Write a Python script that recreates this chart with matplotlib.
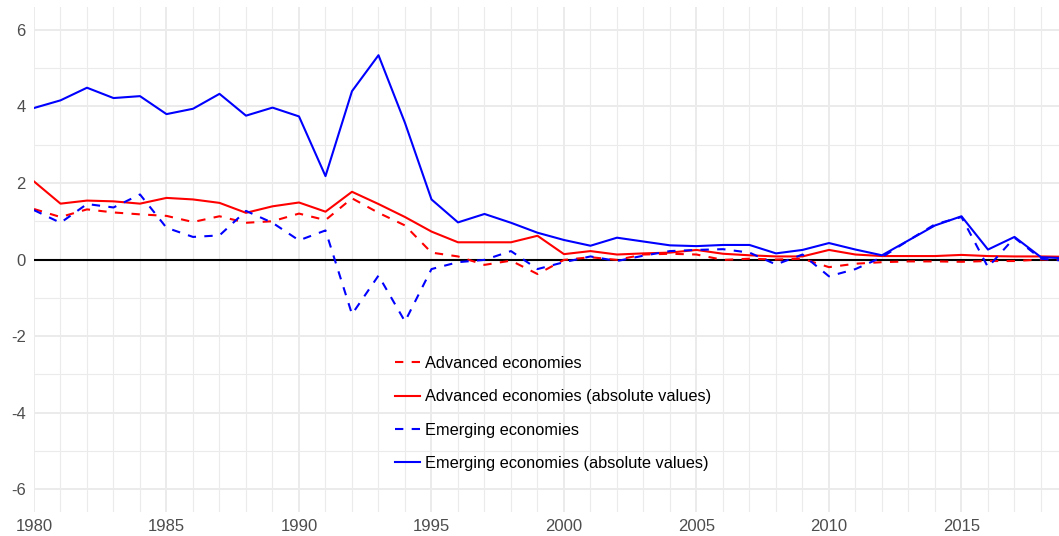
import matplotlib.pyplot as plt
from matplotlib.ticker import MultipleLocator

years = list(range(1980, 2020))

# Advanced economies
adv = [1.32, 1.11, 1.31, 1.23, 1.18, 1.14, 0.98, 1.13, 0.96, 1.00,
       1.20, 1.03, 1.60, 1.22, 0.89, 0.18, 0.08, -0.14, -0.03, -0.38,
       -0.01, 0.06, -0.01, 0.13, 0.15, 0.13, -0.01, 0.02, 0.00, 0.02,
       -0.20, -0.11, -0.07, -0.05, -0.05, -0.06, -0.04, -0.04, 0.00, 0.00]

# Advanced economies (absolute values)
adv_abs = [2.04, 1.46, 1.54, 1.52, 1.46, 1.61, 1.57, 1.48, 1.22, 1.39,
           1.49, 1.25, 1.77, 1.45, 1.11, 0.73, 0.45, 0.45, 0.45, 0.62,
           0.14, 0.22, 0.13, 0.16, 0.18, 0.25, 0.15, 0.11, 0.08, 0.08,
           0.25, 0.13, 0.09, 0.09, 0.09, 0.12, 0.09, 0.08, 0.08, 0.07]

# Emerging economies
emg = [1.29, 0.96, 1.45, 1.36, 1.70, 0.83, 0.59, 0.63, 1.27, 0.96,
       0.50, 0.76, -1.43, -0.42, -1.62, -0.25, -0.07, -0.01, 0.22, -0.25,
       -0.07, 0.08, -0.04, 0.10, 0.22, 0.25, 0.27, 0.18, -0.13, 0.13,
       -0.44, -0.25, 0.06, 0.50, 0.92, 1.11, -0.20, 0.57, 0.02, -0.04]

# Emerging economies (absolute values)
emg_abs = [3.96, 4.16, 4.49, 4.22, 4.27, 3.80, 3.94, 4.33, 3.76, 3.97,
           3.74, 2.18, 4.40, 5.34, 3.57, 1.57, 0.97, 1.19, 0.96, 0.70,
           0.51, 0.36, 0.57, 0.47, 0.37, 0.35, 0.38, 0.38, 0.16, 0.25,
           0.43, 0.26, 0.11, 0.50, 0.89, 1.13, 0.26, 0.59, 0.06, 0.03]

plt.rcParams['font.family'] = ['Liberation Sans', 'DejaVu Sans']
plt.rcParams['axes.unicode_minus'] = False

fig = plt.figure(figsize=(10.59, 5.36), dpi=100)
ax = fig.add_axes([34 / 1059, 24 / 536, 1 - 34 / 1059, 505 / 536])

dash = (4, 4)
ax.plot(years, adv, color='red', lw=1.5, dashes=dash, label='Advanced economies')
ax.plot(years, adv_abs, color='red', lw=1.5, label='Advanced economies (absolute values)')
ax.plot(years, emg, color='blue', lw=1.5, dashes=dash, label='Emerging economies')
ax.plot(years, emg_abs, color='blue', lw=1.5, label='Emerging economies (absolute values)')
ax.axhline(0, color='black', lw=1.5, zorder=1.5)

ax.set_xlim(1980, 2018.68)
ax.set_ylim(-6.6, 6.6)
ax.xaxis.set_major_locator(MultipleLocator(5))
ax.xaxis.set_minor_locator(MultipleLocator(1))
ax.yaxis.set_major_locator(MultipleLocator(2))
ax.yaxis.set_minor_locator(MultipleLocator(1))
ax.grid(which='major', color='#EBEBEB', lw=1.4)
ax.grid(which='minor', color='#EBEBEB', lw=0.8)
ax.set_axisbelow(True)
for s in ax.spines.values():
    s.set_visible(False)
ax.tick_params(which='both', length=0, labelsize=12, colors='#4D4D4D')
ax.tick_params(axis='x', pad=5)
ax.tick_params(axis='y', pad=6)

leg = ax.legend(loc='center left', bbox_to_anchor=(395 / 1059, 122.5 / 536),
                bbox_transform=fig.transFigure, frameon=False, fontsize=11.8,
                handlelength=1.55, handletextpad=0.3, labelspacing=1.12,
                borderpad=0, borderaxespad=0)

fig.savefig('out.png', dpi=100)
